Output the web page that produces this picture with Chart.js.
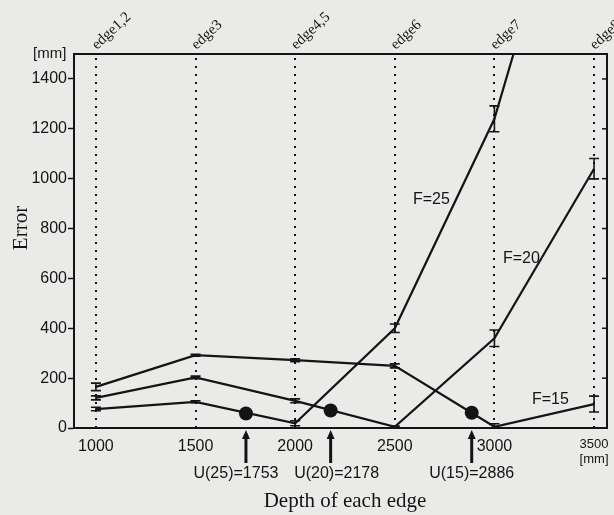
<!DOCTYPE html>
<html>
<head>
<meta charset="utf-8">
<script src="https://cdn.jsdelivr.net/npm/chart.js@4.4.0/dist/chart.umd.min.js"></script>
<style>
  html, body { margin: 0; padding: 0; background: #eaeae8; overflow: hidden; }
  #wrap { width: 614px; height: 515px; position: relative; }
  canvas { display: block; }
</style>
</head>
<body>
<div id="wrap"><canvas id="c" width="614" height="515"></canvas></div>
<script>
// ---- data ----
const depths = [1000, 1500, 2000, 2500, 3000, 3500];
const edgeLabels = ['edge1,2', 'edge3', 'edge4,5', 'edge6', 'edge7', 'edge8'];
const f15 = [165, 292, 272, 249, 5, 96];
const errF15 = [15, 4, 6, 8, 12, 32];
const f20 = [121, 203, 109, 5, 360, 1040];
const errF20 = [8, 5, 8, 3, 33, 41];
const f25 = [76, 105, 19, 400, 1240, 2600];
const errF25 = [7, 4, 10, 17, 52, null];
const uDepth = [1753, 2178, 2886];
const uError = [58, 70, 61];
const uLabels = ['U(25)=1753', 'U(20)=2178', 'U(15)=2886'];
const seriesNames = ['F=15', 'F=20', 'F=25'];
const yTicks = [0, 200, 400, 600, 800, 1000, 1200, 1400];
const xTicks = [1000, 1500, 2000, 2500, 3000, 3500];

const SANS = '"Liberation Sans", Arial, sans-serif';
const SERIF = '"Liberation Serif", "Times New Roman", serif';
const INK = '#141414';
const uLabelShift = [-10, 6, 0];

function pts(vals) { return depths.map((d, i) => ({ x: d, y: vals[i] })); }

const lineDs = (label, vals, errs) => ({
  label, data: pts(vals), errors: errs, showLine: true,
  borderColor: INK, borderWidth: 2.2, pointRadius: 0, fill: false, tension: 0
});

const decor = {
  id: 'decor',
  beforeDatasetsDraw(chart) {
    const { ctx, chartArea: a, scales: { x } } = chart;
    ctx.save();
    ctx.strokeStyle = INK;
    ctx.lineWidth = 2;
    ctx.setLineDash([2, 6]);
    depths.forEach(d => {
      const px = Math.round(x.getPixelForValue(d));
      ctx.beginPath();
      ctx.moveTo(px, a.top + 4);
      ctx.lineTo(px, a.bottom);
      ctx.stroke();
    });
    ctx.restore();
  },
  afterDatasetsDraw(chart) {
    const { ctx, chartArea: a, scales: { x, y } } = chart;
    ctx.save();
    // error bars
    ctx.strokeStyle = INK;
    ctx.fillStyle = INK;
    ctx.lineWidth = 1.6;
    chart.data.datasets.forEach(ds => {
      if (!ds.errors) return;
      ds.data.forEach((p, i) => {
        const e = ds.errors[i];
        if (e == null) return;
        const px = x.getPixelForValue(p.x);
        const y1 = y.getPixelForValue(Math.max(0, p.y - e));
        const y2 = y.getPixelForValue(p.y + e);
        if (y2 < a.top) return;
        ctx.beginPath();
        ctx.moveTo(px, y1); ctx.lineTo(px, y2);
        ctx.moveTo(px - 5, y1); ctx.lineTo(px + 5, y1);
        ctx.moveTo(px - 5, y2); ctx.lineTo(px + 5, y2);
        ctx.stroke();
      });
    });
    // frame top/right
    ctx.lineWidth = 2;
    ctx.beginPath();
    ctx.moveTo(a.left, a.top); ctx.lineTo(a.right, a.top); ctx.lineTo(a.right, a.bottom);
    ctx.stroke();
    // inward ticks on right
    ctx.lineWidth = 1.5;
    yTicks.forEach(v => {
      const py = y.getPixelForValue(v);
      ctx.beginPath(); ctx.moveTo(a.right - 5, py); ctx.lineTo(a.right, py); ctx.stroke();
    });
    // series labels
    ctx.font = '16px ' + SANS;
    ctx.textBaseline = 'middle';
    ctx.textAlign = 'left';
    ctx.fillText(seriesNames[2], 413, 200);
    ctx.fillText(seriesNames[1], 503, 259);
    ctx.fillText(seriesNames[0], 532, 400);
    // edge labels
    ctx.font = '15px ' + SERIF;
    ctx.textBaseline = 'alphabetic';
    depths.forEach((d, i) => {
      const px = x.getPixelForValue(d);
      ctx.save();
      ctx.translate(px + 1, a.top - 4);
      ctx.rotate(-Math.PI / 4.2);
      ctx.fillText(edgeLabels[i], 0, 0);
      ctx.restore();
    });
    // arrows and U labels
    uDepth.forEach((d, i) => {
      const px = x.getPixelForValue(d);
      ctx.lineWidth = 3;
      ctx.beginPath(); ctx.moveTo(px, 463); ctx.lineTo(px, 437); ctx.stroke();
      ctx.beginPath();
      ctx.moveTo(px - 4, 439); ctx.lineTo(px, 430); ctx.lineTo(px + 4, 439); ctx.closePath();
      ctx.fill();
      ctx.font = '16px ' + SANS;
      ctx.textAlign = 'center';
      ctx.textBaseline = 'middle';
      ctx.fillText(uLabels[i], px + uLabelShift[i], 474);
    });
    // [mm] unit on y
    ctx.textAlign = 'left';
    ctx.font = '15px ' + SANS;
    ctx.fillText('[mm]', 33, 54);
    // axis titles
    ctx.font = '21px ' + SERIF;
    ctx.textAlign = 'center';
    ctx.fillText('Depth of each edge', 345, 501);
    ctx.save();
    ctx.translate(21, 228);
    ctx.rotate(-Math.PI / 2);
    ctx.fillText('Error', 0, 0);
    ctx.restore();
    ctx.restore();
  }
};

new Chart(document.getElementById('c'), {
  type: 'scatter',
  data: {
    datasets: [
      lineDs(seriesNames[0], f15, errF15),
      lineDs(seriesNames[1], f20, errF20),
      lineDs(seriesNames[2], f25, errF25),
      {
        label: 'U', data: uDepth.map((d, i) => ({ x: d, y: uError[i] })),
        showLine: false, pointRadius: 7, pointBackgroundColor: INK, pointBorderColor: INK, borderWidth: 0
      }
    ]
  },
  plugins: [decor],
  options: {
    responsive: false,
    animation: false,
    events: [],
    layout: { padding: { top: 54, right: 1, bottom: 0, left: 0 } },
    plugins: { legend: { display: false }, tooltip: { enabled: false } },
    scales: {
      x: {
        type: 'linear', min: 890, max: 3565,
        afterBuildTicks: s => { s.ticks = xTicks.map(v => ({ value: v })); },
        afterFit: s => { s.height = 87; s.paddingRight = 0; s.paddingLeft = 0; },
        grid: { drawOnChartArea: false, drawTicks: false },
        border: { color: INK, width: 2 },
        ticks: {
          color: INK, padding: 9, maxRotation: 0, autoSkip: false,
          font: c => ({ family: SANS, size: (c.tick && c.tick.value === 3500) ? 13 : 16, lineHeight: 1.15 }),
          callback: v => v === 3500 ? ['3500', '[mm]'] : String(v)
        }
      },
      y: {
        type: 'linear', min: 0, max: 1500,
        afterBuildTicks: s => { s.ticks = yTicks.map(v => ({ value: v })); },
        afterFit: s => { s.width = 74; s.paddingTop = 0; s.paddingBottom = 0; },
        grid: { drawOnChartArea: false, drawTicks: true, tickLength: 6, color: INK, tickWidth: 1.5 },
        border: { color: INK, width: 2 },
        ticks: { color: INK, padding: 1, font: { family: SANS, size: 16 }, callback: v => String(v) }
      }
    }
  }
});
</script>
</body>
</html>
